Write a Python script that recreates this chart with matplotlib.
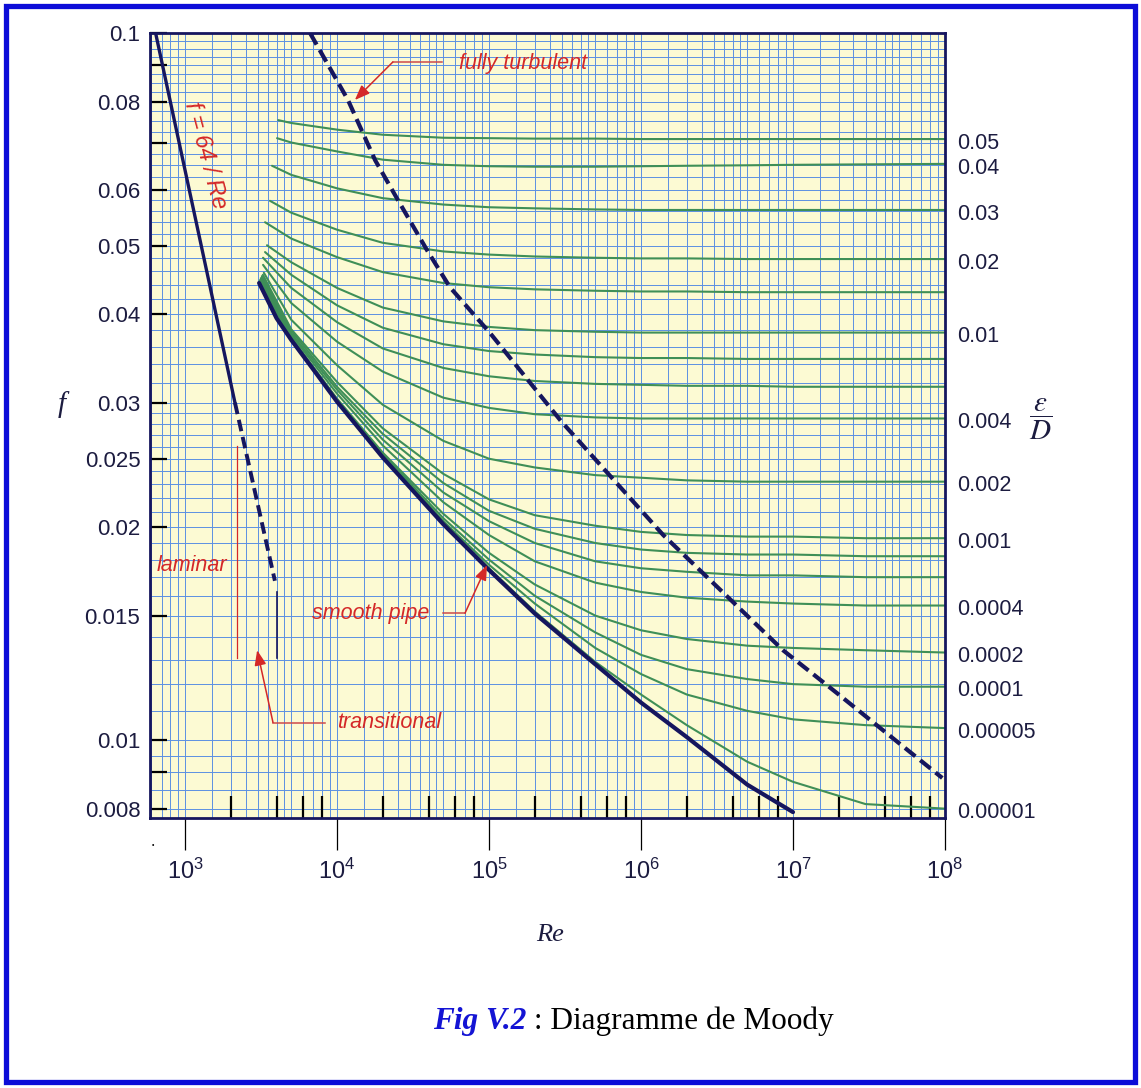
import matplotlib
matplotlib.use('Agg')
import matplotlib.pyplot as plt
from matplotlib.patches import Rectangle
from matplotlib.ticker import FixedLocator, NullFormatter, NullLocator

plt.rcParams['font.family'] = ['Liberation Sans', 'DejaVu Sans']
plt.rcParams['mathtext.fontset'] = 'custom'
plt.rcParams['mathtext.rm'] = 'Liberation Sans'
plt.rcParams['mathtext.it'] = 'Liberation Sans:italic'

# ---------------------------------------------------------------- data
# relative roughness of the green curves (top to bottom)
roughness = [0.05, 0.04, 0.03, 0.02, 0.015, 0.01, 0.008, 0.006, 0.004,
             0.002, 0.001, 0.0008, 0.0006, 0.0004, 0.0002, 0.0001,
             0.00005, 0.00001]
# labels written at the right end ('' = curve without label)
rough_labels = ['0.05', '0.04', '0.03', '0.02', '', '0.01', '', '', '0.004',
                '0.002', '0.001', '', '', '0.0004', '0.0002', '0.0001',
                '0.00005', '0.00001']

# where each green curve begins
re_start = [4100, 4030, 3735, 3620, 3360, 3460, 3360, 3260, 3260,
            3300, 3250, 3200, 3200, 3150, 3150, 3100, 3100, 3100]
f_start = [0.0753, 0.0710, 0.0649, 0.0579, 0.0540, 0.0501, 0.0490, 0.0481,
           0.0470, 0.0458, 0.0455, 0.0453, 0.0451, 0.0450, 0.0448, 0.0447,
           0.0446, 0.0445]

# Reynolds numbers at which the green curves were read
re_read = [5e3, 1e4, 2e4, 5e4, 1e5, 2e5, 5e5, 1e6, 2e6, 5e6, 1e7, 3e7, 1e8]

f_0_05 = [0.0746, 0.0730, 0.0718, 0.0711, 0.0710, 0.0709, 0.0709, 0.0708,
          0.0708, 0.0708, 0.0708, 0.0708, 0.0708]
f_0_04 = [0.0700, 0.0680, 0.0662, 0.0651, 0.0648, 0.0647, 0.0647, 0.0648,
          0.0649, 0.0650, 0.0651, 0.0652, 0.0653]
f_0_03 = [0.0630, 0.0603, 0.0584, 0.0572, 0.0567, 0.0565, 0.0563, 0.0562,
          0.0562, 0.0562, 0.0562, 0.0562, 0.0562]
f_0_02 = [0.0557, 0.0527, 0.0505, 0.0491, 0.0486, 0.0483, 0.0481, 0.0480,
          0.0480, 0.0479, 0.0479, 0.0479, 0.0479]
f_0_015 = [0.0512, 0.0482, 0.0459, 0.0443, 0.0437, 0.0434, 0.0432, 0.0431,
           0.0431, 0.0430, 0.0430, 0.0430, 0.0430]
f_0_01 = [0.0474, 0.0436, 0.0409, 0.0391, 0.0384, 0.0380, 0.0378, 0.0377,
          0.0377, 0.0377, 0.0377, 0.0377, 0.0377]
f_0_008 = [0.0455, 0.0412, 0.0383, 0.0363, 0.0355, 0.0351, 0.0348, 0.0347,
           0.0347, 0.0346, 0.0346, 0.0346, 0.0346]
f_0_006 = [0.0436, 0.0390, 0.0358, 0.0336, 0.0327, 0.0322, 0.0319, 0.0318,
           0.0317, 0.0317, 0.0316, 0.0316, 0.0316]
f_0_004 = [0.0415, 0.0366, 0.0332, 0.0305, 0.0295, 0.0289, 0.0286, 0.0285,
           0.0285, 0.0285, 0.0285, 0.0285, 0.0285]
f_0_002 = [0.0393, 0.0339, 0.0298, 0.0265, 0.0250, 0.0243, 0.0237, 0.0235,
           0.0233, 0.0232, 0.0232, 0.0232, 0.0232]
f_0_001 = [0.0381, 0.0321, 0.0276, 0.0238, 0.0219, 0.0208, 0.0201, 0.0197,
           0.0195, 0.0194, 0.0194, 0.0193, 0.0193]
f_0_0008 = [0.0379, 0.0316, 0.0271, 0.0231, 0.0211, 0.0199, 0.0190, 0.0186,
            0.0184, 0.0183, 0.0183, 0.0182, 0.0182]
f_0_0006 = [0.0376, 0.0313, 0.0266, 0.0224, 0.0204, 0.0190, 0.0179, 0.0175,
            0.0173, 0.0171, 0.0171, 0.0170, 0.0170]
f_0_0004 = [0.0374, 0.0309, 0.0261, 0.0217, 0.0195, 0.0179, 0.0167, 0.0162,
            0.0159, 0.0157, 0.0156, 0.0155, 0.0155]
f_0_0002 = [0.0371, 0.0304, 0.0255, 0.0209, 0.0184, 0.0166, 0.0150, 0.0143,
            0.0139, 0.0136, 0.0135, 0.0134, 0.0133]
f_0_0001 = [0.0370, 0.0303, 0.0254, 0.0206, 0.0180, 0.0160, 0.0142, 0.0132,
            0.0126, 0.0122, 0.0120, 0.0119, 0.0119]
f_0_00005 = [0.0370, 0.0303, 0.0253, 0.0204, 0.0177, 0.0156, 0.0135, 0.0124,
             0.0116, 0.0110, 0.0107, 0.0105, 0.0104]
f_0_00001 = [0.0369, 0.0302, 0.0252, 0.0203, 0.0175, 0.0152, 0.0129, 0.0116,
             0.0105, 0.00932, 0.00873, 0.00812, 0.00800]

rough_curves = [f_0_05, f_0_04, f_0_03, f_0_02, f_0_015, f_0_01, f_0_008,
                f_0_006, f_0_004, f_0_002, f_0_001, f_0_0008, f_0_0006,
                f_0_0004, f_0_0002, f_0_0001, f_0_00005, f_0_00001]

# smooth pipe
re_smooth = [3070, 4000, 5000, 7000, 1e4, 2e4, 5e4, 1e5, 2e5, 5e5, 1e6,
             2e6, 5e6, 1e7]
f_smooth = [0.0443, 0.0395, 0.0368, 0.0334, 0.0301, 0.0251, 0.0202, 0.0174,
            0.0151, 0.0128, 0.0113, 0.0101, 0.00865, 0.00791]

# laminar f = 64/Re (solid) and its transitional continuation (dashed)
re_laminar = [640, 2130]
f_laminar = [0.100, 0.0300]
re_lam_dash = [2130, 3900]
f_lam_dash = [0.0300, 0.0168]

# fully turbulent boundary (dashed)
re_turb = [6640, 1.18e4, 1.78e4, 2.52e4, 3.91e4, 5.53e4, 1.02e5, 3.0e5,
           1.4e6, 4.0e6, 8.6e6, 1.95e7, 3.9e7, 9.6e7]
f_turb = [0.100, 0.0804, 0.0661, 0.0580, 0.0493, 0.0437, 0.0376, 0.0282,
          0.0195, 0.0157, 0.0134, 0.01165, 0.01033, 0.00884]

# axis ticks
x_major = [1e3, 1e4, 1e5, 1e6, 1e7, 1e8]
x_major_labels = ['$10^{3}$', '$10^{4}$', '$10^{5}$', '$10^{6}$',
                  '$10^{7}$', '$10^{8}$']
x_minor = [m * 10 ** e for e in range(3, 8) for m in (2, 4, 6, 8)]
y_ticks = [0.008, 0.009, 0.01, 0.015, 0.02, 0.025, 0.03, 0.04, 0.05, 0.06,
           0.07, 0.08, 0.09, 0.1]
y_labels = ['0.008', '', '0.01', '0.015', '0.02', '0.025', '0.03', '0.04',
            '0.05', '0.06', '', '0.08', '', '0.1']

# graph paper
grid_mant = [1, 1.5, 2, 2.5, 3, 3.5, 4, 4.5, 5, 6, 7, 8, 9]
grid_re = [m * 10 ** e for e in range(2, 8) for m in grid_mant]
grid_f = ([0.0075 + 0.0005 * i for i in range(5)] +
          [0.01 + 0.001 * i for i in range(20)] +
          [0.03 + 0.002 * i for i in range(15)] +
          [0.06 + 0.0025 * i for i in range(17)])

# ---------------------------------------------------------------- style
NAVY = '#16165e'
GREEN = '#3f8f57'
GRIDC = '#5c90e2'
RED = '#d42828'
PAPER = '#fcfad3'
TXT = '#1c1c40'

W, H = 1141, 1088
fig = plt.figure(figsize=(W / 100, H / 100), dpi=100)
fig.patch.set_facecolor('white')

ax = fig.add_axes([150 / W, 1 - 818 / H, 795 / W, 785 / H])
ax.set_xscale('log')
ax.set_yscale('log')
ax.set_xlim(588, 1e8)
ax.set_ylim(0.00776, 0.1)
ax.set_facecolor(PAPER)

for x in grid_re:
    ax.axvline(x, color=GRIDC, lw=0.7, zorder=1)
for y in grid_f:
    ax.axhline(y, color=GRIDC, lw=0.7, zorder=1)

# green roughness curves
for r0, f0, fc in zip(re_start, f_start, rough_curves):
    ax.plot([r0] + re_read, [f0] + fc, color=GREEN, lw=1.5, zorder=3,
            solid_capstyle='round')

# right-hand labels of relative roughness
for lab, fc in zip(rough_labels, rough_curves):
    if lab:
        ax.annotate(lab, xy=(1, fc[-1]), xycoords=('axes fraction', 'data'),
                    xytext=(9, -3), textcoords='offset points',
                    ha='left', va='center', fontsize=15.5, color=TXT,
                    annotation_clip=False)

ax.plot(re_smooth, f_smooth, color=NAVY, lw=3.0, zorder=5,
        solid_capstyle='round')
ax.plot(re_laminar, f_laminar, color=NAVY, lw=2.4, zorder=5)
ax.plot(re_lam_dash, f_lam_dash, color=NAVY, lw=2.8, zorder=5,
        dashes=(3.0, 1.5))
ax.plot(re_turb, f_turb, color=NAVY, lw=3.0, zorder=5, dashes=(3.2, 1.5))

# transitional zone markers
ax.plot([2200, 2200], [0.0261, 0.01307], color=RED, lw=0.9, zorder=6)
ax.plot([4000, 4000], [0.0162, 0.01307], color=NAVY, lw=1.2, zorder=6)


def leader(text, text_xy, path, ha='left'):
    ax.text(text_xy[0], text_xy[1], text, color=RED, fontsize=15.5,
            style='italic', ha=ha, va='center', zorder=8)
    xs = [p[0] for p in path[:-1]]
    ys = [p[1] for p in path[:-1]]
    ax.plot(xs, ys, color='#cc4a4a', lw=1.1, zorder=8)
    ax.annotate('', xy=path[-1], xytext=path[-2],
                arrowprops=dict(arrowstyle='-|>,head_length=0.9,head_width=0.35',
                                color=RED, lw=1.1, shrinkA=0, shrinkB=0),
                zorder=8)


leader('fully turbulent', (6.3e4, 0.0905),
       [(4.9e4, 0.0910), (2.33e4, 0.0910), (1.31e4, 0.0804)])
leader('smooth pipe', (6.85e3, 0.01512),
       [(4.98e4, 0.01512), (6.95e4, 0.01512), (9.7e4, 0.01768)])
leader('transitional', (1.0e4, 0.0106),
       [(8.3e3, 0.01059), (3.79e3, 0.01059), (2.98e3, 0.0134)])
ax.text(1.11e3, 0.01768, 'laminar', color=RED, fontsize=15.5,
        style='italic', ha='center', va='center', zorder=8)
ax.text(1.37e3, 0.0672, 'f = 64 / Re', color=RED, fontsize=17,
        style='italic', ha='center', va='center', rotation=-75, zorder=8)

# ticks
ax.xaxis.set_major_locator(FixedLocator(x_major))
ax.set_xticklabels(x_major_labels)
ax.xaxis.set_minor_locator(FixedLocator(x_minor))
ax.xaxis.set_minor_formatter(NullFormatter())
ax.tick_params(axis='x', which='major', direction='out', length=23,
               width=0.9, color='black', pad=6, labelsize=17,
               labelcolor=TXT)
ax.tick_params(axis='x', which='minor', direction='in', length=16,
               width=1.6, color='black')
ax.yaxis.set_major_locator(FixedLocator(y_ticks))
ax.set_yticklabels(y_labels)
ax.yaxis.set_minor_locator(NullLocator())
ax.tick_params(axis='y', which='major', direction='in', length=12,
               width=1.6, color='black', pad=7, labelsize=16,
               labelcolor=TXT)
for side in ['left', 'right', 'top', 'bottom']:
    ax.spines[side].set_color(NAVY)
    ax.spines[side].set_linewidth(2.0)
    ax.spines[side].set_zorder(9)

# axis names
fig.text(62 / W, 1 - 405 / H, 'f', family='Liberation Serif', style='italic',
         fontsize=21, color=TXT, ha='center', va='center')
fig.text(550 / W, 1 - 935 / H, 'Re', family='Liberation Serif',
         style='italic', fontsize=19, color=TXT, ha='center', va='center')
fig.text(1041 / W, 1 - 419 / H, r'$\dfrac{\varepsilon}{D}$',
         math_fontfamily='stix', fontsize=21, color=TXT,
         ha='center', va='center')
fig.text(153 / W, 1 - 845 / H, '\u2022', fontsize=5, color='black',
         ha='center', va='center')

# caption
t1 = fig.text(433 / W, 1 - 1022 / H, 'Fig V.2', family='Liberation Serif',
              style='italic', weight='bold', color='#1414d4', fontsize=22.5,
              ha='left', va='center')
ax.annotate(' : Diagramme de Moody', xy=(1, 0), xycoords=t1,
            ha='left', va='bottom', family='Liberation Serif',
            fontsize=22.5, color='black', annotation_clip=False)

# blue page frame
fig.patches.append(Rectangle((6 / W, 6 / H), (1135 - 6) / W, (1082 - 6) / H,
                             transform=fig.transFigure, fill=False,
                             edgecolor='#0c0cd8', lw=3.8))

fig.savefig('out.png', dpi=100)
